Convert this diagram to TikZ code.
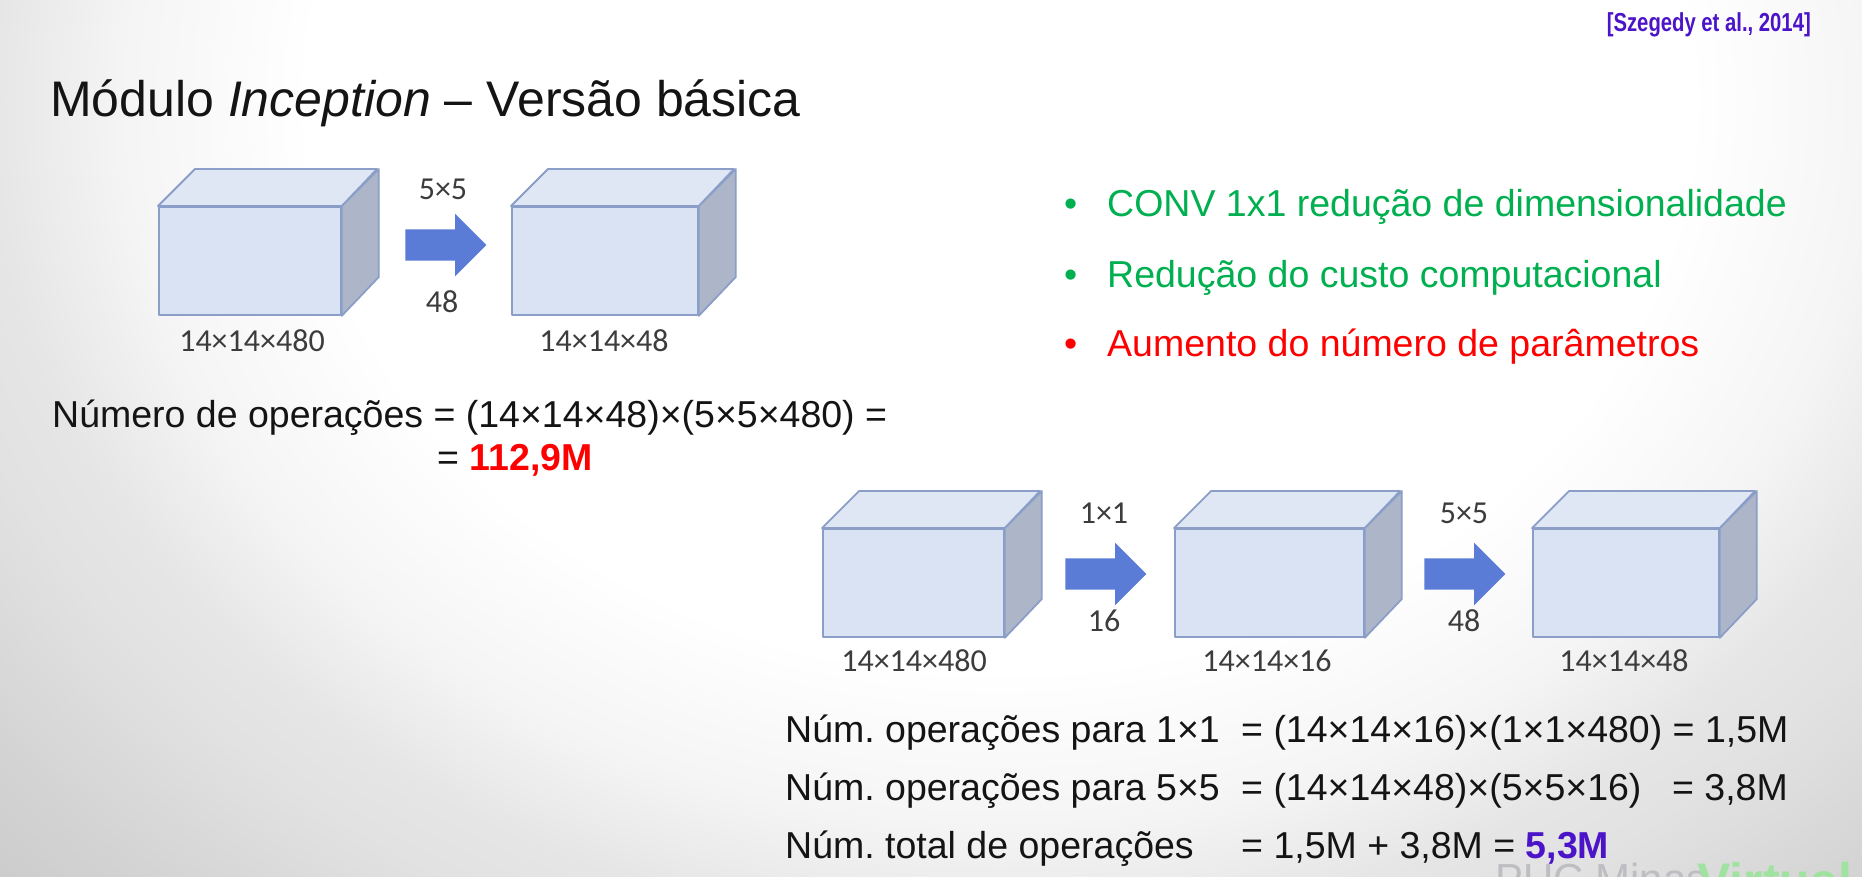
\documentclass[tikz,border=0pt]{standalone}
\usepackage{fontspec}
\usepackage{graphicx}
\setmainfont{Liberation Sans}
\newfontfamily\labelfont{Carlito}
\usetikzlibrary{shapes.arrows}

\definecolor{cubefront}{RGB}{218,227,243}
\definecolor{cubetop}{RGB}{223,231,245}
\definecolor{cubeside}{RGB}{172,182,200}
\definecolor{cubeedge}{RGB}{138,158,200}
\definecolor{arrowblue}{RGB}{90,124,214}
\definecolor{okgreen}{RGB}{0,176,80}
\definecolor{citeviolet}{RGB}{75,20,200}
\definecolor{labelgray}{RGB}{60,60,60}
\definecolor{textblack}{RGB}{20,20,20}
\definecolor{wmgray}{RGB}{190,190,194}
\definecolor{wmgreen}{RGB}{160,226,160}

% soft slide background, white towards the upper right, greyer at the lower left
% (the central 50bp square of a shading is fitted to the shaded path)
\pgfdeclareradialshading{slidebg}{\pgfpoint{0bp}{0bp}}{%
  color(0bp)=(white); color(15bp)=(white); color(19bp)=(white!96!black);
  color(22bp)=(white!90!black); color(23.75bp)=(white!88.5!black);
  color(27.5bp)=(white!83!black); color(30bp)=(white!80!black); color(50bp)=(white!78!black)}

% a feature-map block: front face as a node, top and side faces drawn from its anchors
\newcommand{\featcube}[3]{%
  \node[frontface, minimum width=#3pt, anchor=north west] (#1) at #2 {};
  \filldraw[face, fill=cubetop] (#1.north west) -- ++(37,-37) -- ++(#3,0) -- (#1.north east) -- cycle;
  \filldraw[face, fill=cubeside] (#1.north east) -- ++(37,-37) -- ++(0,108) -- (#1.south east) -- cycle;
}

\frenchspacing
\begin{document}
\begin{tikzpicture}[x=1pt,y=-1pt,
  face/.style={draw=cubeedge, line width=1.8pt, line join=round},
  frontface/.style={face, fill=cubefront, rectangle, inner sep=0pt, minimum height=108pt},
  blockarrow/.style={single arrow, fill=arrowblue, draw=none, inner xsep=0pt, inner ysep=15.5pt,
    minimum height=81pt, single arrow head extend=15.5pt},
  dimlabel/.style={font=\labelfont\fontsize{32}{38}\selectfont, text=labelgray, inner sep=0pt},
  body/.style={font=\fontsize{37.5}{45}\selectfont, text=textblack, inner sep=0pt, anchor=base west},
  heading/.style={font=\fontsize{50}{60}\selectfont, text=textblack, inner sep=0pt, anchor=base west},
  wmtext/.style={inner sep=0pt, anchor=base west}
]
\useasboundingbox (0,0) rectangle (1862,876);
\clip (0,0) rectangle (1862,876);
\shade[shading=slidebg] (-150,-850) rectangle (2150,1050);

% heading and reference
\node[heading] (title) at (50,116) {Módulo \textit{Inception} – Versão básica};
\node[inner sep=0pt, anchor=base east, text=citeviolet, font=\fontsize{26}{30}\selectfont\bfseries]
  (cite) at (1811,31) {\scalebox{0.78}[1]{[Szegedy et al., 2014]}};

% direct 5x5 convolution
\featcube{ca}{(158,206)}{182}
\node[blockarrow] (aa) at (438,245) {};
\featcube{cb}{(511,206)}{186}
\node[dimlabel] (aatop) at (443,189) {5×5};
\node[dimlabel] (aabot) at (442,302) {48};
\node[dimlabel] (calab) at (252,341) {14×14×480};
\node[dimlabel] (cblab) at (604,341) {14×14×48};

\node[body] (ops) at (52,427) {Número de operações = (14×14×48)×(5×5×480) =};
\node[body] (opsres) at (437,470) {= {\bfseries\color{red}112,9M}};

% remarks
\node[body, text=okgreen] (d1) at (1064,216) {•};
\node[body, text=okgreen] (r1) at (1107,216) {CONV 1x1 redução de dimensionalidade};
\node[body, text=okgreen] (d2) at (1064,287) {•};
\node[body, text=okgreen] (r2) at (1107,287) {Redução do custo computacional};
\node[body, text=red] (d3) at (1064,356) {•};
\node[body, text=red] (r3) at (1107,356) {Aumento do número de parâmetros};

% 1x1 bottleneck followed by 5x5 convolution
\featcube{cc}{(822,528)}{181}
\node[blockarrow] (ab) at (1098,574) {};
\featcube{cd}{(1174,528)}{189}
\node[blockarrow] (ac) at (1457,574) {};
\featcube{ce}{(1532,528)}{186}
\node[dimlabel] (abtop) at (1104,513) {1×1};
\node[dimlabel] (abbot) at (1104,621) {16};
\node[dimlabel] (actop) at (1464,513) {5×5};
\node[dimlabel] (acbot) at (1464,621) {48};
\node[dimlabel] (cclab) at (914,661) {14×14×480};
\node[dimlabel] (cdlab) at (1267,661) {14×14×16};
\node[dimlabel] (celab) at (1624,661) {14×14×48};

\node[body] (l1a) at (785,742) {Núm. operações para 1×1};
\node[body] (l1b) at (1241,742) {= (14×14×16)×(1×1×480) = 1,5M};
\node[body] (l2a) at (785,800) {Núm. operações para 5×5};
\node[body] (l2b) at (1241,800) {= (14×14×48)×(5×5×16)};
\node[body, anchor=base east] (l2c) at (1788,800) {= 3,8M};
\node[body] (l3a) at (785,858) {Núm. total de operações};
\node[body] (l3b) at (1241,858) {= 1,5M + 3,8M = {\bfseries\color{citeviolet}5,3M}};

% watermark
\node[wmtext, text=wmgray, font=\fontsize{42}{50}\selectfont] (wm1) at (1495,893) {PUC Minas};
\node[wmtext, text=wmgreen, font=\fontsize{50}{60}\selectfont\bfseries] (wm2) at (1697,898) {Virtual};
\end{tikzpicture}
\end{document}
